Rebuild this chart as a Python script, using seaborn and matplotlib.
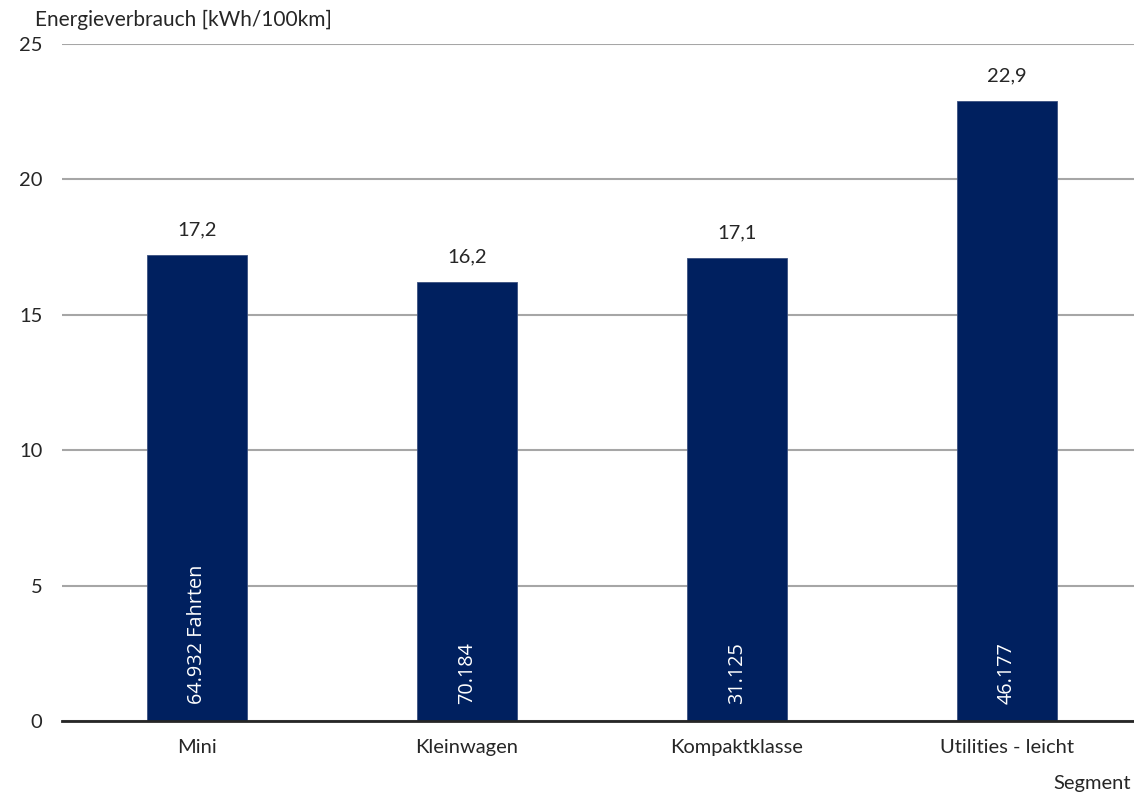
import matplotlib
matplotlib.use("Agg")
import matplotlib.pyplot as plt
import seaborn as sns
import pandas as pd

# Segment data
segments = ["Mini", "Kleinwagen", "Kompaktklasse", "Utilities - leicht"]
consumption = [17.2, 16.2, 17.1, 22.9]
trips_labels = ["64.932 Fahrten", "70.184", "31.125", "46.177"]

df = pd.DataFrame({"Segment": segments, "Verbrauch": consumption})

sns.set_theme(style="white")
plt.rcParams["font.family"] = ["Lato", "DejaVu Sans"]

W, H, DPI = 1134, 796, 100
fig = plt.figure(figsize=(W / DPI, H / DPI), dpi=DPI)
ax = fig.add_axes([62 / W, 75 / H, 1080 / W, 677 / H])

bar_color = "#00205F"
sns.barplot(data=df, x="Segment", y="Verbrauch", color=bar_color, width=0.37,
            saturation=1, ax=ax, zorder=3, edgecolor="#3a5080", linewidth=0.6)

ax.set_xlim(-0.5, 3.5)
ax.set_ylim(0, 25)
ax.set_yticks([0, 5, 10, 15, 20, 25])
ax.yaxis.grid(True, color="#A6A6A6", linewidth=1.5, zorder=0)
ax.xaxis.grid(False)
for side in ["top", "right", "left"]:
    ax.spines[side].set_visible(False)
ax.spines["bottom"].set_color("#262626")
ax.spines["bottom"].set_linewidth(2)
ax.spines["bottom"].set_zorder(4)

ax.tick_params(axis="y", length=0, pad=14, labelsize=14.5, labelcolor="#262626")
ax.tick_params(axis="x", length=0, pad=13, labelsize=14.5, labelcolor="#262626")
ax.set_xlabel("")
ax.set_ylabel("")

# Value labels above bars and trip counts inside bars
for i, (v, t) in enumerate(zip(consumption, trips_labels)):
    ax.annotate(f"{v:.1f}".replace(".", ","), xy=(i, v), xytext=(0, 25),
                textcoords="offset pixels", ha="center", va="center",
                fontsize=14.5, color="#262626")
    ax.annotate(t, xy=(i, 0), xytext=(0, 17), textcoords="offset pixels",
                ha="center", va="bottom", rotation=90, fontsize=14.3,
                color="white", fontfamily=["Open Sans", "DejaVu Sans"], zorder=5)

fig.text(35 / W, 1 - 20 / H, "Energieverbrauch [kWh/100km]", ha="left",
         va="center", fontsize=15, color="#262626")
fig.text(1131 / W, 1 - 784 / H, "Segment", ha="right", va="center",
         fontsize=14.5, color="#262626")

fig.savefig("out.png", dpi=DPI, facecolor="white")
